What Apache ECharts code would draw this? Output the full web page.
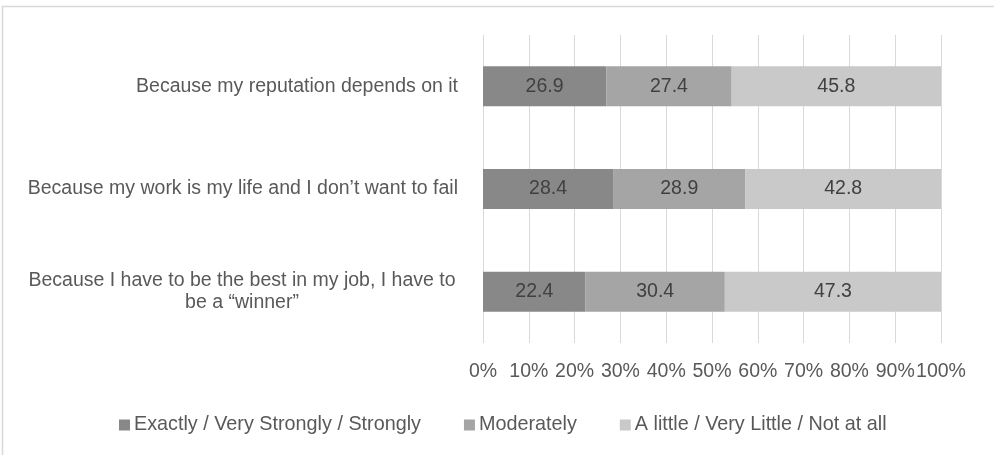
<!DOCTYPE html>
<html>
<head>
<meta charset="utf-8">
<script src="https://cdn.jsdelivr.net/npm/echarts@6/dist/echarts.min.js"></script>
<style>
  html, body { margin: 0; padding: 0; background: #fff; }
  #chart { width: 994px; height: 455px; }
</style>
</head>
<body>
<div id="chart"></div>
<script>
// Reasons, listed bottom to top as the category axis draws them
const categories = [
  'Because I have to be the best in my job, I have to be a \u201cwinner\u201d',
  'Because my work is my life and I don\u2019t want to fail',
  'Because my reputation depends on it'
];
const seriesNames = [
  'Exactly / Very Strongly / Strongly',
  'Moderately',
  'A little / Very Little / Not at all'
];
const strongValues = [22.4, 28.4, 26.9];
const moderateValues = [30.4, 28.9, 27.4];
const littleValues = [47.3, 42.8, 45.8];
const tickLabels = ['0%', '10%', '20%', '30%', '40%', '50%', '60%', '70%', '80%', '90%', '100%'];

const colors = ['#888888', '#a5a5a5', '#c9c9c9'];
const FONT = '"Liberation Sans", Arial, sans-serif';
const FS = 19.5;

const chart = echarts.init(document.getElementById('chart'));

function barSeries(name, data, color) {
  return {
    name: name,
    type: 'bar',
    stack: 'total',
    barWidth: 40,
    data: data,
    itemStyle: { color: color },
    label: {
      show: true,
      position: 'inside',
      color: '#404040',
      fontFamily: FONT,
      fontSize: FS,
      formatter: p => p.value.toFixed(1)
    },
    emphasis: { disabled: true }
  };
}

chart.setOption({
  animation: false,
  textStyle: { fontFamily: FONT },
  graphic: [{
    type: 'rect',
    silent: true,
    shape: { x: 2.5, y: 6.5, width: 1010, height: 470 },
    style: { fill: 'none', stroke: '#d9d9d9', lineWidth: 1.5 }
  }],
  grid: { left: 483, right: 53, top: 35, bottom: 112, containLabel: false, outerBoundsMode: 'none' },
  legend: {
    left: 119,
    top: 415,
    padding: 0,
    itemWidth: 11,
    itemHeight: 11,
    itemGap: 43,
    icon: 'rect',
    textStyle: { color: '#595959', fontFamily: FONT, fontSize: 19.8, padding: [0, 0, 0, -1] },
    data: seriesNames
  },
  xAxis: {
    type: 'value',
    min: 0,
    max: 100,
    interval: 10,
    axisLine: { show: false },
    axisTick: { show: false },
    splitLine: { lineStyle: { color: '#d9d9d9', width: 1 } },
    axisLabel: {
      color: '#595959',
      fontFamily: FONT,
      fontSize: FS,
      margin: 19,
      formatter: v => tickLabels[Math.round(v / 10)]
    }
  },
  yAxis: {
    type: 'category',
    data: categories,
    axisLine: { show: false },
    axisTick: { show: false },
    axisLabel: {
      color: '#595959',
      fontFamily: FONT,
      fontSize: FS,
      margin: 25,
      formatter: function (v) {
        if (v.indexOf('winner') >= 0) {
          return '{w|Because I have to be the best in my job, I have to}\n{w|be a \u201cwinner\u201d}';
        }
        return v;
      },
      rich: {
        w: {
          width: 432,
          align: 'center',
          color: '#595959',
          fontFamily: FONT,
          fontSize: FS,
          lineHeight: 22
        }
      }
    }
  },
  series: [
    barSeries(seriesNames[0], strongValues, colors[0]),
    barSeries(seriesNames[1], moderateValues, colors[1]),
    barSeries(seriesNames[2], littleValues, colors[2])
  ]
});
</script>
</body>
</html>
